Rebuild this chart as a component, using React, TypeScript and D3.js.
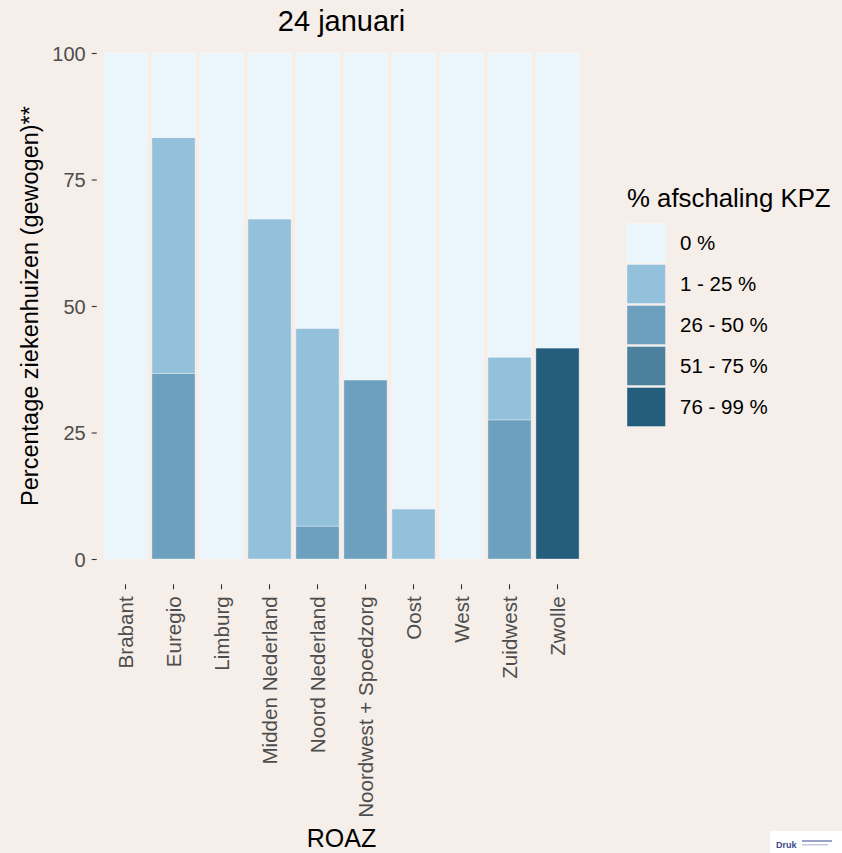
import * as d3 from "d3";
import {useEffect, useRef} from "react";

// ROAZ regions on the x-axis
const categories = [
    "Brabant", "Euregio", "Limburg", "Midden Nederland", "Noord Nederland",
    "Noordwest + Spoedzorg", "Oost", "West", "Zuidwest", "Zwolle",
];

// percentage of hospitals (weighted) per afschaling class
const pct0 = [100, 16.7, 100, 32.8, 54.4, 64.6, 90.1, 100, 60.1, 58.3];
const pct1to25 = [0, 46.6, 0, 67.2, 39.1, 0, 9.9, 0, 12.4, 0];
const pct26to50 = [0, 36.7, 0, 0, 6.5, 35.4, 0, 0, 27.5, 0];
const pct51to75 = [0, 0, 0, 0, 0, 0, 0, 0, 0, 0];
const pct76to99 = [0, 0, 0, 0, 0, 0, 0, 0, 0, 41.7];

const classLabels = ["0 %", "1 - 25 %", "26 - 50 %", "51 - 75 %", "76 - 99 %"];
const classColors = ["#EBF6FC", "#93C1DC", "#6CA0BE", "#4B819C", "#245E7C"];
const yTicks = [0, 25, 50, 75, 100];

const W = 842;
const H = 853;

const App = () => {
    const svgRef = useRef(null);

    useEffect(() => {
        if (!svgRef.current) return;
        document.body.style.margin = "0";
        document.body.style.background = "#F5EEE9";

        d3.select(svgRef.current).selectAll("*").remove();

        const svg = d3.select(svgRef.current)
            .attr("width", W)
            .attr("height", H)
            .style("display", "block")
            .style("font-family", "'Liberation Sans', Arial, sans-serif");

        svg.append("rect").attr("width", W).attr("height", H).attr("fill", "#F5EEE9");

        // panel bounds (ggplot-style expansion)
        const panel = {left: 96.7, right: 586.3, top: 27.7, bottom: 584.3};

        const x = d3.scaleBand()
            .domain(categories)
            .range([panel.left, panel.right])
            .paddingInner(0.1)
            .paddingOuter(0.15);

        const y = d3.scaleLinear()
            .domain([-5, 105])
            .range([panel.bottom, panel.top]);

        // table for the stack
        const table = categories.map((c, i) => ({
            cat: c,
            k0: pct0[i],
            k1: pct1to25[i],
            k2: pct26to50[i],
            k3: pct51to75[i],
            k4: pct76to99[i],
        }));
        const keys = ["k4", "k3", "k2", "k1", "k0"]; // bottom first
        const colorOf: Record<string, string> = {
            k0: classColors[0], k1: classColors[1], k2: classColors[2], k3: classColors[3], k4: classColors[4],
        };

        const series = d3.stack<any>().keys(keys)(table);

        const layers = svg.append("g")
            .selectAll("g")
            .data(series)
            .enter()
            .append("g")
            .attr("fill", d => colorOf[d.key]);

        layers.selectAll("rect")
            .data(d => d.filter(s => s[1] - s[0] > 0))
            .enter()
            .append("rect")
            .attr("x", d => x(d.data.cat)!)
            .attr("width", x.bandwidth())
            .attr("y", d => y(d[1]))
            .attr("height", d => y(d[0]) - y(d[1]))
            .attr("stroke", "rgba(255,255,255,0.35)")
            .attr("stroke-width", 1);

        // y axis
        const yAxis = svg.append("g")
            .attr("transform", `translate(${panel.left},0)`)
            .call(d3.axisLeft(y).tickValues(yTicks).tickSize(5).tickPadding(6));
        yAxis.select(".domain").remove();
        yAxis.selectAll("line").attr("stroke", "#333333").attr("stroke-width", 1.1);
        yAxis.selectAll("text")
            .attr("fill", "#4D4D4D")
            .style("font-size", "20px")
            .style("font-family", "'Liberation Sans', Arial, sans-serif")
            .attr("dy", "0.36em");

        // x axis
        const xAxis = svg.append("g")
            .attr("transform", `translate(0,${panel.bottom})`)
            .call(d3.axisBottom(x).tickSize(5).tickPadding(8));
        xAxis.select(".domain").remove();
        xAxis.selectAll("line").attr("stroke", "#333333").attr("stroke-width", 1.1);
        xAxis.selectAll("text")
            .attr("fill", "#4D4D4D")
            .style("font-size", "20.6px")
            .style("font-family", "'Liberation Sans', Arial, sans-serif")
            .attr("text-anchor", "end")
            .attr("transform", "rotate(-90)")
            .attr("x", -12)
            .attr("y", 0)
            .attr("dy", "0.36em");

        // title
        svg.append("text")
            .attr("x", (panel.left + panel.right) / 2)
            .attr("y", 31)
            .attr("text-anchor", "middle")
            .style("font-size", "29px")
            .attr("fill", "#000")
            .text("24 januari");

        // axis titles
        svg.append("text")
            .attr("x", (panel.left + panel.right) / 2)
            .attr("y", 847)
            .attr("text-anchor", "middle")
            .style("font-size", "25px")
            .attr("fill", "#000")
            .text("ROAZ");

        svg.append("text")
            .attr("transform", `translate(38,${(panel.top + panel.bottom) / 2}) rotate(-90)`)
            .attr("text-anchor", "middle")
            .style("font-size", "23.5px")
            .attr("fill", "#000")
            .text("Percentage ziekenhuizen (gewogen)**");

        // legend
        const legend = svg.append("g").attr("transform", "translate(627,0)");
        legend.append("text")
            .attr("x", 0)
            .attr("y", 207)
            .style("font-size", "25.8px")
            .attr("fill", "#000")
            .text("% afschaling KPZ");

        const items = legend.selectAll("g.item")
            .data(classLabels)
            .enter()
            .append("g")
            .attr("class", "item")
            .attr("transform", (d, i) => `translate(0,${223.5 + i * 41})`);
        items.append("rect")
            .attr("width", 38.5)
            .attr("height", 39)
            .attr("fill", (d, i) => classColors[i])
            .attr("stroke", "rgba(255,255,255,0.35)")
            .attr("stroke-width", 1);
        items.append("text")
            .attr("x", 53)
            .attr("y", 19.5)
            .attr("dy", "0.36em")
            .style("font-size", "20.5px")
            .attr("fill", "#000")
            .text(d => d);

        // small print badge in the corner
        const badge = svg.append("g").attr("transform", "translate(770,831)");
        badge.append("rect").attr("width", 72).attr("height", 22).attr("fill", "#ffffff");
        badge.append("text")
            .attr("x", 6)
            .attr("y", 17)
            .style("font-size", "9px")
            .style("font-weight", "bold")
            .attr("fill", "#3b4a8c")
            .text("Druk");
        badge.append("rect").attr("x", 32).attr("y", 9).attr("width", 30).attr("height", 2).attr("fill", "#9aa3c8");
        badge.append("rect").attr("x", 32).attr("y", 13).attr("width", 26).attr("height", 1.5).attr("fill", "#c4c9de");
    }, []);

    return <svg ref={svgRef}></svg>;
};

export default App;
